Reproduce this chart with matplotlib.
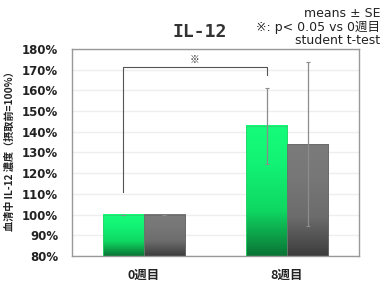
import numpy as np
import matplotlib.pyplot as plt
from matplotlib.colors import LinearSegmentedColormap

plt.rcParams['font.family'] = ['Noto Sans CJK JP', 'DejaVu Sans']

# данные
categories = ['0週目', '8週目']
green_means = [100.0, 142.9]
green_se = [0.0, 18.4]
gray_means = [100.0, 134.0]
gray_se = [0.0, 39.7]
yticks = list(range(80, 181, 10))

fig = plt.figure(figsize=(3.85, 2.85), dpi=100)
ax = fig.add_axes([0.187, 0.102, 0.745, 0.726])

x = np.arange(len(categories)) + 0.5
w = 0.286

green_cmap = LinearSegmentedColormap.from_list(
    'g', [(0, '#0a7434'), (0.35, '#0fd862'), (0.7, '#12f274'), (1, '#16fc7a')])
gray_cmap = LinearSegmentedColormap.from_list(
    'k', [(0, '#3c3c3c'), (0.35, '#6c6c6c'), (0.7, '#777777'), (1, '#7b7b7b')])

grad = np.linspace(0, 1, 256).reshape(-1, 1)


def gradient_bar(x0, top, cmap):
    ax.imshow(grad, extent=(x0, x0 + w, 80, top), origin='lower',
              aspect='auto', cmap=cmap, zorder=2)


for i in range(len(categories)):
    gradient_bar(x[i] - w, green_means[i], green_cmap)
    gradient_bar(x[i], gray_means[i], gray_cmap)

# рамки столбиков
ax.bar(x - w / 2, green_means, w, bottom=0, fill=False,
       edgecolor='#2bd46a', linewidth=0.6, zorder=3)
ax.bar(x + w / 2, gray_means, w, bottom=0, fill=False,
       edgecolor='#6a6a6a', linewidth=0.6, zorder=3)

ax.errorbar(x - w / 2, green_means, yerr=green_se, fmt='none',
            ecolor='#8c8c8c', elinewidth=0.9, capsize=1.5, capthick=0.8, zorder=4)
ax.errorbar(x + w / 2, gray_means, yerr=gray_se, fmt='none',
            ecolor='#8c8c8c', elinewidth=0.9, capsize=1.5, capthick=0.8, zorder=4)

# значимость
bx0, bx1 = x[0] - w / 2, x[1] - w / 2
ax.plot([bx0, bx0, bx1, bx1], [111, 171.4, 171.4, 167.4],
        color='#555555', linewidth=0.8, zorder=4)
ax.text((bx0 + bx1) / 2, 172.5, '※', ha='center', va='bottom',
        fontsize=7, color='#333333')

ax.set_xlim(0, 2)
ax.set_ylim(80, 180)
ax.set_yticks(yticks)
ax.set_yticklabels([f'{t}%' for t in yticks], fontsize=8.5, fontweight='bold',
                   family=['DejaVu Sans'], color='#222222')
ax.set_xticks(x)
ax.set_xticklabels(categories, fontsize=9, fontweight='bold', color='#222222')
ax.tick_params(axis='y', length=0, pad=10)
ax.tick_params(axis='x', length=0, pad=9)
ax.grid(axis='y', color='#eeeeee', linewidth=1.0, zorder=0)
ax.set_axisbelow(True)
for s in ax.spines.values():
    s.set_color('#999999')
    s.set_linewidth(1.0)

ax.set_ylabel('血清中 IL-12 濃度（摂取前=100%）', fontsize=7.3, fontweight='bold',
              color='#222222')
ax.yaxis.set_label_coords(-0.2, 0.52)

fig.text(0.518, 0.888, 'IL-12', ha='center', va='center', fontsize=13,
         fontweight='bold', family=['DejaVu Sans Mono'], color='#333333')
ann = dict(ha='right', va='center', fontsize=9, color='#222222',
           family=['DejaVu Sans', 'Noto Sans CJK JP'])
fig.text(0.988, 0.953, 'means ± SE', **ann)
fig.text(0.988, 0.905, '※: p< 0.05 vs 0週目', **ann)
fig.text(0.988, 0.857, 'student t-test', **ann)

fig.savefig('out.png', dpi=100)
